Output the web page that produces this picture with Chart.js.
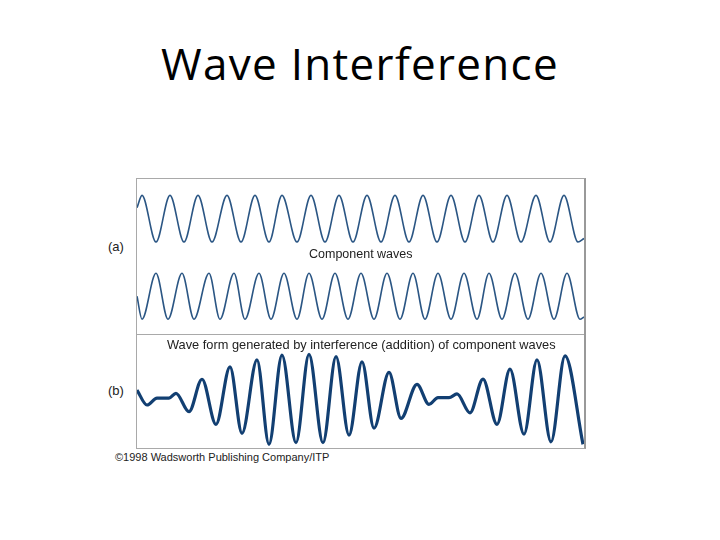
<!DOCTYPE html>
<html lang="en">
<head>
    <meta charset="UTF-8">
    <title>Wave Interference</title>
    <style>
        body { margin: 0; width: 720px; height: 540px; background: #fff; position: relative; overflow: hidden;
               font-family: "Liberation Sans", Arial, sans-serif; color: #111; }
        .txt { position: absolute; white-space: nowrap; }
        #title { left: 0; width: 720px; top: 38px; text-align: center; font-family: "Comic Sans MS", "Open Sans", sans-serif;
                 font-size: 44px; line-height: 50px; letter-spacing: 1.3px; color: #000; }
        #panel { position: absolute; left: 136px; top: 178px; width: 447px; height: 269px;
                 border: 1px solid #a9a9a9; border-right: 2px solid #999; }
        #divider { position: absolute; left: 137px; top: 334px; width: 447px; height: 0; border-top: 1px solid #a9a9a9; }
        #waves { position: absolute; left: 137px; top: 179px; }
        .lbl { font-size: 12.5px; line-height: 16px; color: #222; }
    </style>
</head>
<body>
    <div id="title" class="txt">Wave Interference</div>
    <div id="panel"></div>
    <div id="divider"></div>
    <div id="waves"><canvas id="myChart" width="447" height="269"></canvas></div>
    <div class="txt lbl" style="left:108px; top:239px; font-size:13px;">(a)</div>
    <div class="txt lbl" style="left:309px; top:246px;">Component waves</div>
    <div class="txt lbl" style="left:167px; top:337px; font-size:12.8px;">Wave form generated by interference (addition) of component waves</div>
    <div class="txt lbl" style="left:108px; top:383px; font-size:13px;">(b)</div>
    <div class="txt lbl" style="left:115px; top:449px; font-size:11px;">©1998 Wadsworth Publishing Company/ITP</div>

    <script src="https://cdn.jsdelivr.net/npm/chart.js"></script>
    <script>
    // time axis is in px-like units across the panel (0 = left edge)
    // component wave 1: peaks / troughs
    const waveAt = [0, 5, 19, 33, 47, 61, 75, 90, 104, 118, 132, 145, 160, 174, 188, 202, 216, 230, 244,
                    258, 272, 286, 300, 314, 328, 342, 356, 370, 384, 399, 413, 427, 441, 447];
    const waveAy = [0.47, 1, -1, 1, -1, 1, -1, 1, -1, 1, -1, 1, -1, 1, -1, 1, -1, 1, -1,
                    1, -1, 1, -1, 1, -1, 1, -1, 1, -1, 1, -1, 1, -1, -0.85];

    // component wave 2 (slightly higher frequency)
    const waveBt = [0, 5, 19, 31, 45, 57, 72, 83, 97, 108, 122, 134, 147, 160, 172, 185, 198, 211, 224,
                    237, 250, 263, 276, 288, 301, 314, 327, 340, 352, 365, 378, 391, 404, 417, 430, 443, 447];
    const waveBy = [0, -1, 1, -1, 1, -1, 1, -1, 1, -1, 1, -1, 1, -1, 1, -1, 1, -1, 1,
                    -1, 1, -1, 1, -1, 1, -1, 1, -1, 1, -1, 1, -1, 1, -1, 1, -1, -0.9];

    // resulting wave form (b)
    const sumT = [0, 10, 20, 32, 39, 52, 65, 79, 93, 105, 120, 132, 145, 159, 172, 186, 199, 212, 225,
                  237, 252, 264, 280, 292, 301, 312, 320, 333, 346, 360, 373, 387, 400, 414, 428, 446];
    const sumY = [0.39, -0.26, 0.04, 0.04, 0.25, -0.55, 0.86, -1.10, 1.40, -1.49, 1.70, -1.97, 1.91, -1.90, 1.94, -1.90, 1.84, -1.57, 1.62,
                  -1.27, 1.16, -0.84, 0.64, -0.23, 0.06, 0.06, 0.22, -0.60, 0.87, -1.10, 1.30, -1.53, 1.70, -1.86, 1.88, -1.97];

    const pts = (xs, ys) => xs.map((x, i) => ({ x: x, y: ys[i] }));

    const ctx = document.getElementById('myChart');
    const myChart = new Chart(ctx, {
        type: 'line',
        data: {
            datasets: [
                { label: 'wave 1', data: pts(waveAt, waveAy), yAxisID: 'yA',
                  borderColor: '#2b5684', borderWidth: 1.6 },
                { label: 'wave 2', data: pts(waveBt, waveBy), yAxisID: 'yB',
                  borderColor: '#2b5684', borderWidth: 1.6 },
                { label: 'sum', data: pts(sumT, sumY), yAxisID: 'yS',
                  borderColor: '#123f72', borderWidth: 3.2 }
            ]
        },
        options: {
            responsive: false,
            animation: false,
            layout: { padding: 0 },
            elements: {
                point: { radius: 0 },
                line: { cubicInterpolationMode: 'monotone', fill: false }
            },
            plugins: { legend: { display: false }, tooltip: { enabled: false } },
            scales: {
                x: { type: 'linear', min: 0, max: 447, display: false },
                yA: { min: -9.82, max: 1.70, display: false },
                yB: { min: -6.60, max: 5.10, display: false },
                yS: { min: -2.13, max: 9.57, display: false }
            }
        }
    });
    </script>
</body>
</html>
